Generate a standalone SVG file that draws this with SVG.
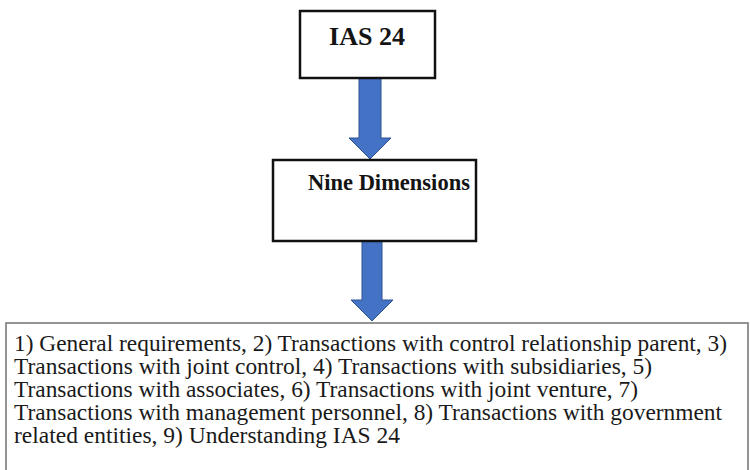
<svg xmlns="http://www.w3.org/2000/svg" width="750" height="470" viewBox="0 0 750 470">
  <defs>
    <style>
      .box { fill: #ffffff; stroke: #111111; stroke-width: 2.5; }
      .list { fill: #ffffff; stroke: #7a7a7a; stroke-width: 1.6; }
      .arrow { fill: #4472c4; stroke: #2f528f; stroke-width: 1; }
      .title { font-family: "Liberation Serif", "Times New Roman", serif; font-weight: bold; fill: #141414; }
      .body { font-family: "Liberation Serif", "Times New Roman", serif; font-size: 22.5px; fill: #1a1a1a; }
    </style>
  </defs>
  <rect width="750" height="470" fill="#ffffff"/>

  <!-- connectors: block arrows between the boxes -->
  <g id="connectors">
    <path class="arrow" d="M359,78 L381,78 L381,138 L391,138 L370,159 L349,138 L359,138 Z"/>
    <path class="arrow" d="M362,236 L382,236 L382,300 L393,300 L372,321 L351,300 L362,300 Z"/>
  </g>

  <g id="node-ias24">
    <rect class="box" x="300" y="11" width="135" height="67"/>
    <text class="title" x="367" y="45" font-size="26" text-anchor="middle">IAS 24</text>
  </g>

  <g id="node-nine-dimensions">
    <rect class="box" x="273" y="160" width="203" height="81"/>
    <text class="title" x="308" y="190" font-size="22.5">Nine Dimensions</text>
  </g>

  <g id="node-list">
    <rect class="list" x="6" y="323" width="742" height="160"/>
    <text class="body" lengthAdjust="spacingAndGlyphs">
      <tspan x="14" y="351" textLength="713" lengthAdjust="spacingAndGlyphs">1) General requirements, 2) Transactions with control relationship parent, 3)</tspan>
      <tspan x="14" y="374" textLength="638" lengthAdjust="spacingAndGlyphs">Transactions with joint control, 4) Transactions with subsidiaries, 5)</tspan>
      <tspan x="14" y="397" textLength="624" lengthAdjust="spacingAndGlyphs">Transactions with associates, 6) Transactions with joint venture, 7)</tspan>
      <tspan x="14" y="420" textLength="708" lengthAdjust="spacingAndGlyphs">Transactions with management personnel, 8) Transactions with government</tspan>
      <tspan x="14" y="443" textLength="386" lengthAdjust="spacingAndGlyphs">related entities, 9) Understanding IAS 24</tspan>
    </text>
  </g>
</svg>
